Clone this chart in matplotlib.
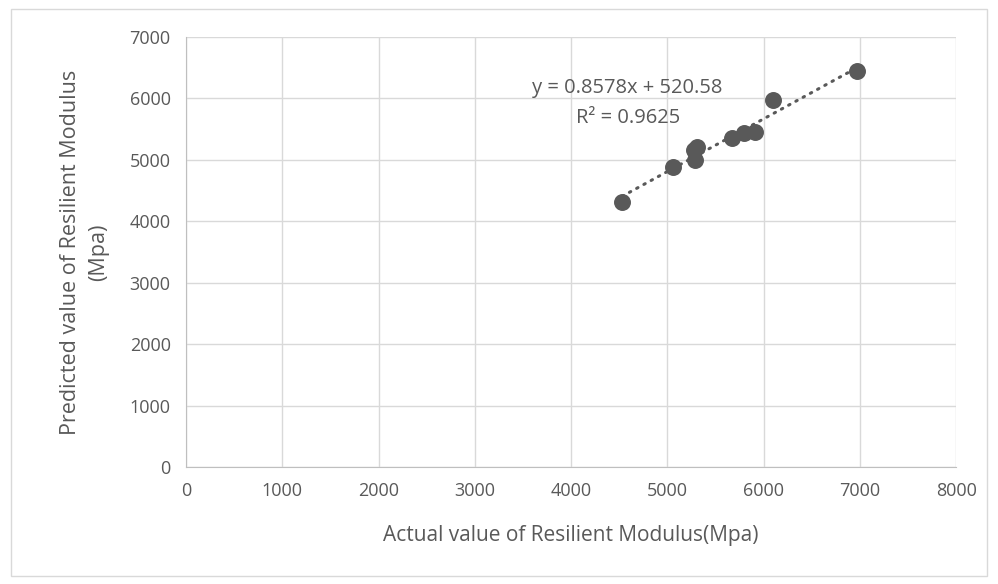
import numpy as np
import matplotlib.pyplot as plt
from matplotlib.patches import Rectangle

# data
actual = [4531, 5058, 5288, 5277, 5313, 5677, 5792, 5913, 6094, 6975]
predicted = [4320, 4883, 4992, 5159, 5208, 5361, 5436, 5459, 5972, 6452]
slope, intercept = 0.8578, 520.58
eq_text = "y = 0.8578x + 520.58"
r2_text = "R² = 0.9625"

plt.rcParams['font.family'] = ['Open Sans', 'DejaVu Sans']
txt = '#595959'

fig = plt.figure(figsize=(9.98, 5.84), dpi=100)
ax = fig.add_axes([0.1864, 0.2003, 0.7716, 0.7363])

fig.patches.append(Rectangle((11 / 998, 8 / 584), 976 / 998, 567 / 584,
                             transform=fig.transFigure, fill=False,
                             edgecolor='#d9d9d9', lw=1))

ax.scatter(actual, predicted, s=125, color='#595959', zorder=3)
xs = np.array([min(actual), max(actual)])
ax.plot(xs, slope * xs + intercept, color='#595959', lw=2.2,
        linestyle=(0, (0.5, 2.2)), dash_capstyle='round', zorder=2)

# trendline label (placed like the excel label box)
ax.annotate(eq_text, xy=(627, 584 - 88), xycoords='figure pixels',
            ha='center', va='center', fontsize=14.5, color=txt)
ax.annotate(r2_text, xy=(628, 584 - 118), xycoords='figure pixels',
            ha='center', va='center', fontsize=14.5, color=txt)

ax.set_xlim(0, 8000)
ax.set_ylim(0, 7000)
ax.set_xticks(range(0, 8001, 1000))
ax.set_yticks(range(0, 7001, 1000))
ax.grid(True, color='#d9d9d9', lw=1)
ax.set_axisbelow(True)
for s in ['top', 'right']:
    ax.spines[s].set_visible(False)
for s in ['left', 'bottom']:
    ax.spines[s].set_color('#bfbfbf')
ax.tick_params(length=0, labelsize=13, labelcolor=txt, pad=11)

ax.set_xlabel('Actual value of Resilient Modulus(Mpa)', fontsize=15,
              color=txt, labelpad=18)
ax.set_ylabel('Predicted value of Resilient Modulus\n(Mpa)', fontsize=15.5,
              color=txt, labelpad=15, linespacing=1.4)

fig.savefig('out.png', dpi=100)
